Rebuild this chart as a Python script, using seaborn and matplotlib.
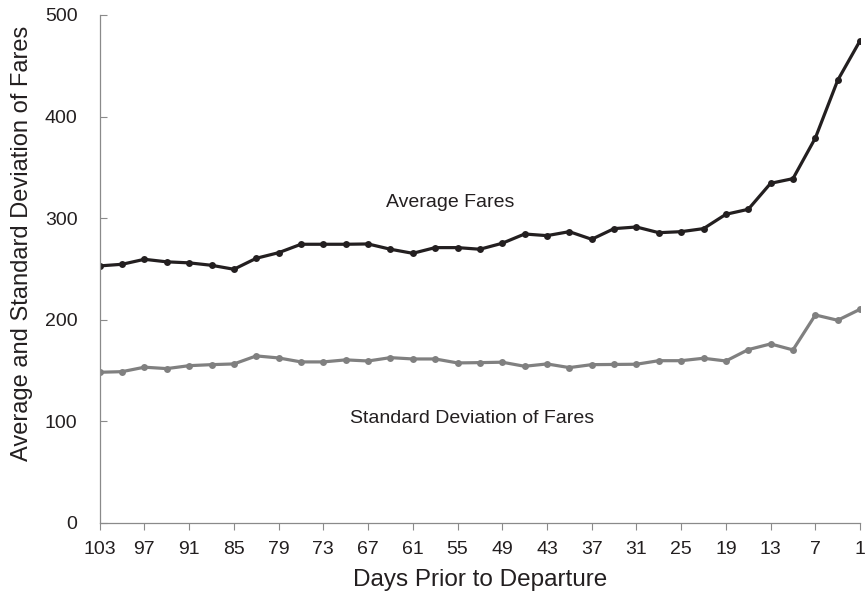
import numpy as np
import pandas as pd
import seaborn as sns
import matplotlib.pyplot as plt

# days before departure, one reading every 3 days
days = list(range(103, 0, -3))

avg_fares = [253, 254.6, 259.5, 257, 256, 253.6, 249.7, 260.5, 266, 274.3,
             274.3, 274.3, 274.6, 269.4, 265.4, 271, 271, 269.4, 275.3, 284.4,
             282.8, 286.7, 279.2, 289.7, 291.3, 285.7, 286.7, 289.7, 303.8, 308.7,
             334.3, 338.9, 378.9, 435.7, 474.7]

std_fares = [148.3, 148.9, 153.3, 151.9, 154.8, 155.8, 156.5, 164.4, 162.4, 158.5,
             158.5, 160.5, 159.4, 162.7, 161.4, 161.4, 157.5, 157.8, 158.2, 154.2,
             156.5, 152.9, 155.8, 156, 156.2, 159.7, 159.7, 162.1, 159.4, 170.6,
             176.2, 170.3, 204.7, 199.5, 210.3]

series_names = ['Average Fares', 'Standard Deviation of Fares']
x_ticks = list(range(103, 0, -6))
y_ticks = [0, 100, 200, 300, 400, 500]

df = pd.DataFrame({
    'days': days + days,
    'fare': avg_fares + std_fares,
    'series': [series_names[0]] * len(days) + [series_names[1]] * len(days),
})

sns.set_style('ticks')
plt.rcParams['font.family'] = ['Liberation Sans', 'DejaVu Sans']

text_col = '#231f20'
axis_col = '#8a8a8a'

fig = plt.figure(figsize=(8.67, 5.99), dpi=100)
ax = fig.add_axes([0.115, 0.127, 0.877, 0.848])

sns.lineplot(data=df, x='days', y='fare', hue='series',
             palette={series_names[0]: '#231f20', series_names[1]: '#808080'},
             marker='o', markersize=5, markeredgewidth=0,
             linewidth=2.3, legend=False, ax=ax)

ax.set_xlim(103, 1)
ax.set_ylim(0, 500)
ax.set_xticks(x_ticks)
ax.set_xticklabels([str(t) for t in x_ticks])
ax.set_yticks(y_ticks)

sns.despine(ax=ax)
for s in ['left', 'bottom']:
    ax.spines[s].set_color(axis_col)
    ax.spines[s].set_linewidth(0.9)

ax.tick_params(axis='x', direction='out', length=5, color=axis_col,
               labelsize=14, labelcolor=text_col, pad=8)
ax.tick_params(axis='y', direction='in', length=5, color=axis_col,
               labelsize=14, labelcolor=text_col, pad=16)

ax.set_xlabel('Days Prior to Departure', fontsize=17.5, color=text_col, labelpad=8)
ax.set_ylabel('Average and Standard Deviation of Fares', fontsize=17,
              color=text_col)
ax.yaxis.set_label_coords(-0.088, 0.55)

ax.text(56, 315, series_names[0], ha='center', va='center',
        fontsize=14, color=text_col)
ax.text(53, 103, series_names[1], ha='center', va='center',
        fontsize=14, color=text_col)

fig.savefig('out.png', dpi=100)
